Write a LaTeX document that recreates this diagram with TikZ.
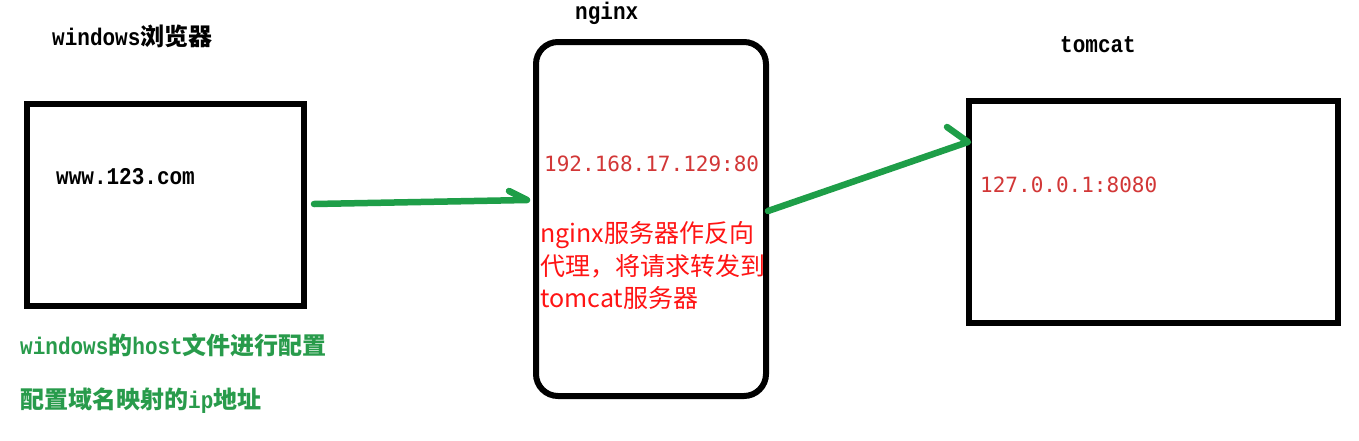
\documentclass[tikz,border=0pt]{standalone}
\usepackage{fontspec}
\newfontfamily\latb{Liberation Mono}[FakeStretch=0.875]
\newfontfamily\cjk{Noto Sans CJK SC}
\newfontfamily\nummono{DejaVu Sans Mono}
\definecolor{arrowgreen}{RGB}{30,158,72}
\definecolor{textgreen}{RGB}{40,155,75}
\definecolor{numred}{RGB}{210,55,55}
\definecolor{cnred}{RGB}{255,20,20}
\tikzset{
  box/.style={draw=black, line width=6pt, minimum width=#1, inner sep=0pt},
  arr/.style={draw=arrowgreen, line width=6.5pt, line cap=round, line join=round},
  lbl/.style={anchor=base west, inner sep=0pt, font=\fontsize{24}{26}\selectfont\latb\bfseries},
  cn/.style={anchor=base west, inner sep=0pt, text=cnred, font=\fontsize{25}{30}\selectfont\cjk},
  num/.style={anchor=base west, inner sep=0pt, text=numred, font=\fontsize{21}{24}\selectfont\nummono},
}
\newcommand{\zh}[1]{{\fontsize{24}{26}\selectfont\cjk\bfseries #1}}
\begin{document}
\begin{tikzpicture}[x=1pt,y=-1pt]
\useasboundingbox[fill=white] (0,0) rectangle (1359,440);
% boxes
\node[box=277pt, minimum height=202pt] (browser) at (165.5,205) {};
\node[box=230pt, minimum height=354pt, rounded corners=22pt] (nginx) at (651,219) {};
\node[box=369pt, minimum height=222pt] (tomcat) at (1153.5,212) {};
% titles
\node[lbl] (tbrowser) at (52,45) {windows\zh{浏览器}};
\node[lbl] (tnginx) at (575,19) {nginx};
\node[lbl] (ttomcat) at (1060,52) {tomcat};
% contents
\node[lbl] (url) at (56,184) {www.123.com};
\node[num] (ngip) at (544,171) {192.168.17.129:80};
\node[num] (tcip) at (980,192) {127.0.0.1:8080};
\node[cn] (p1) at (540,242) {nginx服务器作反向};
\node[cn] (p2) at (540,275) {代理，将请求转发到};
\node[cn] (p3) at (540,307) {tomcat服务器};
% green notes
\node[lbl, text=textgreen] (n1) at (20,354) {windows\zh{的}host\zh{文件进行配置}};
\node[lbl, text=textgreen] (n2) at (20,408) {\zh{配置域名映射的}ip\zh{地址}};
% arrows
\coordinate (a1s) at (314,204);
\coordinate (a1e) at (527,200);
\coordinate (a2s) at (768,211);
\coordinate (a2e) at (968,142);
\draw[arr] (a1s) -- (a1e) -- ++(-18,-9);
\draw[arr] (a2s) -- (a2e) -- ++(-21,-15);
\end{tikzpicture}
\end{document}
